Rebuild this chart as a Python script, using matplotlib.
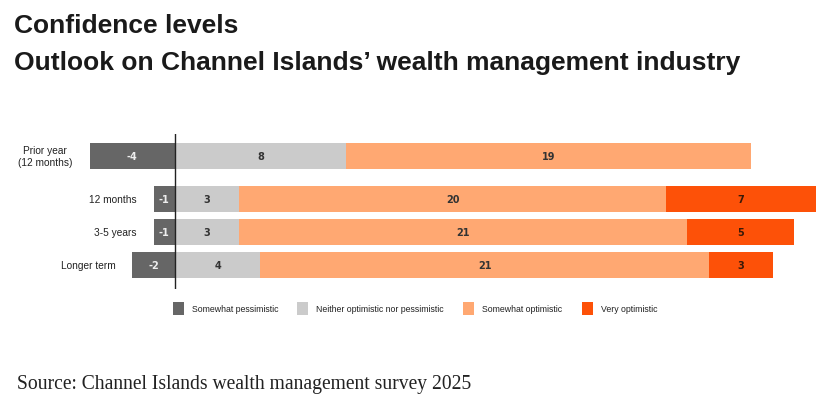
import numpy as np
import matplotlib
matplotlib.use("Agg")
import matplotlib.pyplot as plt
from matplotlib.patches import Rectangle

# data
rows = ["Prior year\n(12 months)", "12 months", "3-5 years", "Longer term"]
pessimistic = [-4, -1, -1, -2]
neither = [8, 3, 3, 4]
somewhat_opt = [19, 20, 21, 21]
very_opt = [0, 7, 5, 3]
series_names = ["Somewhat pessimistic", "Neither optimistic nor pessimistic",
                "Somewhat optimistic", "Very optimistic"]
colors = ["#666666", "#cbcbcb", "#ffa872", "#fd5108"]

W, H = 818, 410
fig = plt.figure(figsize=(W / 100, H / 100), dpi=100)
plt.rcParams['font.family'] = ['Liberation Sans', 'DejaVu Sans']

# axes placed in pixels: zero line at x=175
s = 21.35
x0 = 175
left_px = x0 - 5 * s
ax = fig.add_axes([left_px / W, (H - 290) / H, 35 * s / W, 155 / H])
ax.set_xlim(-5, 30)
ax.set_ylim(-0.727, 3.97)
ax.axis("off")

ypos = np.array([3.3, 2, 1, 0])
h = 0.79

pess = np.array(pessimistic)
neit = np.array(neither)
sopt = np.array(somewhat_opt)
vopt = np.array(very_opt)

ax.barh(ypos, pess, height=h, color=colors[0], lw=0)
ax.barh(ypos, neit, height=h, color=colors[1], lw=0)
ax.barh(ypos, sopt, left=neit, height=h, color=colors[2], lw=0)
ax.barh(ypos, vopt, left=neit + sopt, height=h, color=colors[3], lw=0)
ax.axvline(0, color="#222222", lw=1.0)

lab = dict(ha="center", va="center", fontsize=7, fontweight="bold",
           family=["DejaVu Sans"])
for i, y in enumerate(ypos):
    ax.text(pess[i] / 2, y, str(pess[i]), color="#eeeeee", **lab)
    ax.text(neit[i] / 2, y, str(neit[i]), color="#333333", **lab)
    ax.text(neit[i] + sopt[i] / 2, y, str(sopt[i]), color="#333333", **lab)
    if vopt[i] > 0:
        ax.text(neit[i] + sopt[i] + vopt[i] / 2, y, str(vopt[i]), color="#3a1a08", **lab)
    ax.annotate(rows[i], (pess[i], y), xytext=(-17, 0), textcoords="offset pixels",
                ha="right", va="center", multialignment="center",
                fontsize=7.3, color="#222222")

# legend drawn by hand
sq_x = [172.7, 297, 462.7, 581.7]
for name, c, sx in zip(series_names, colors, sq_x):
    fig.patches.append(Rectangle((sx / W, (H - 316) / H), 11 / W, 13 / H,
                                 transform=fig.transFigure, color=c, lw=0))
    fig.text((sx + 19) / W, (H - 309.5) / H, name, ha="left", va="center",
             fontsize=6.3, color="#222222")

# titles
fig.text(14 / W, (H - 33) / H, "Confidence levels", fontsize=19, fontweight="bold",
         color="#1a1a1a", va="baseline")
fig.text(14 / W, (H - 70) / H, "Outlook on Channel Islands\u2019 wealth management industry",
         fontsize=19, fontweight="bold", color="#1a1a1a", va="baseline")

fig.text(17 / W, (H - 385) / H, "Source: Channel Islands wealth management survey 2025",
         fontsize=14.1, family=["Liberation Serif", "DejaVu Serif"], color="#222222",
         va="center")

fig.savefig("out.png", dpi=100)
